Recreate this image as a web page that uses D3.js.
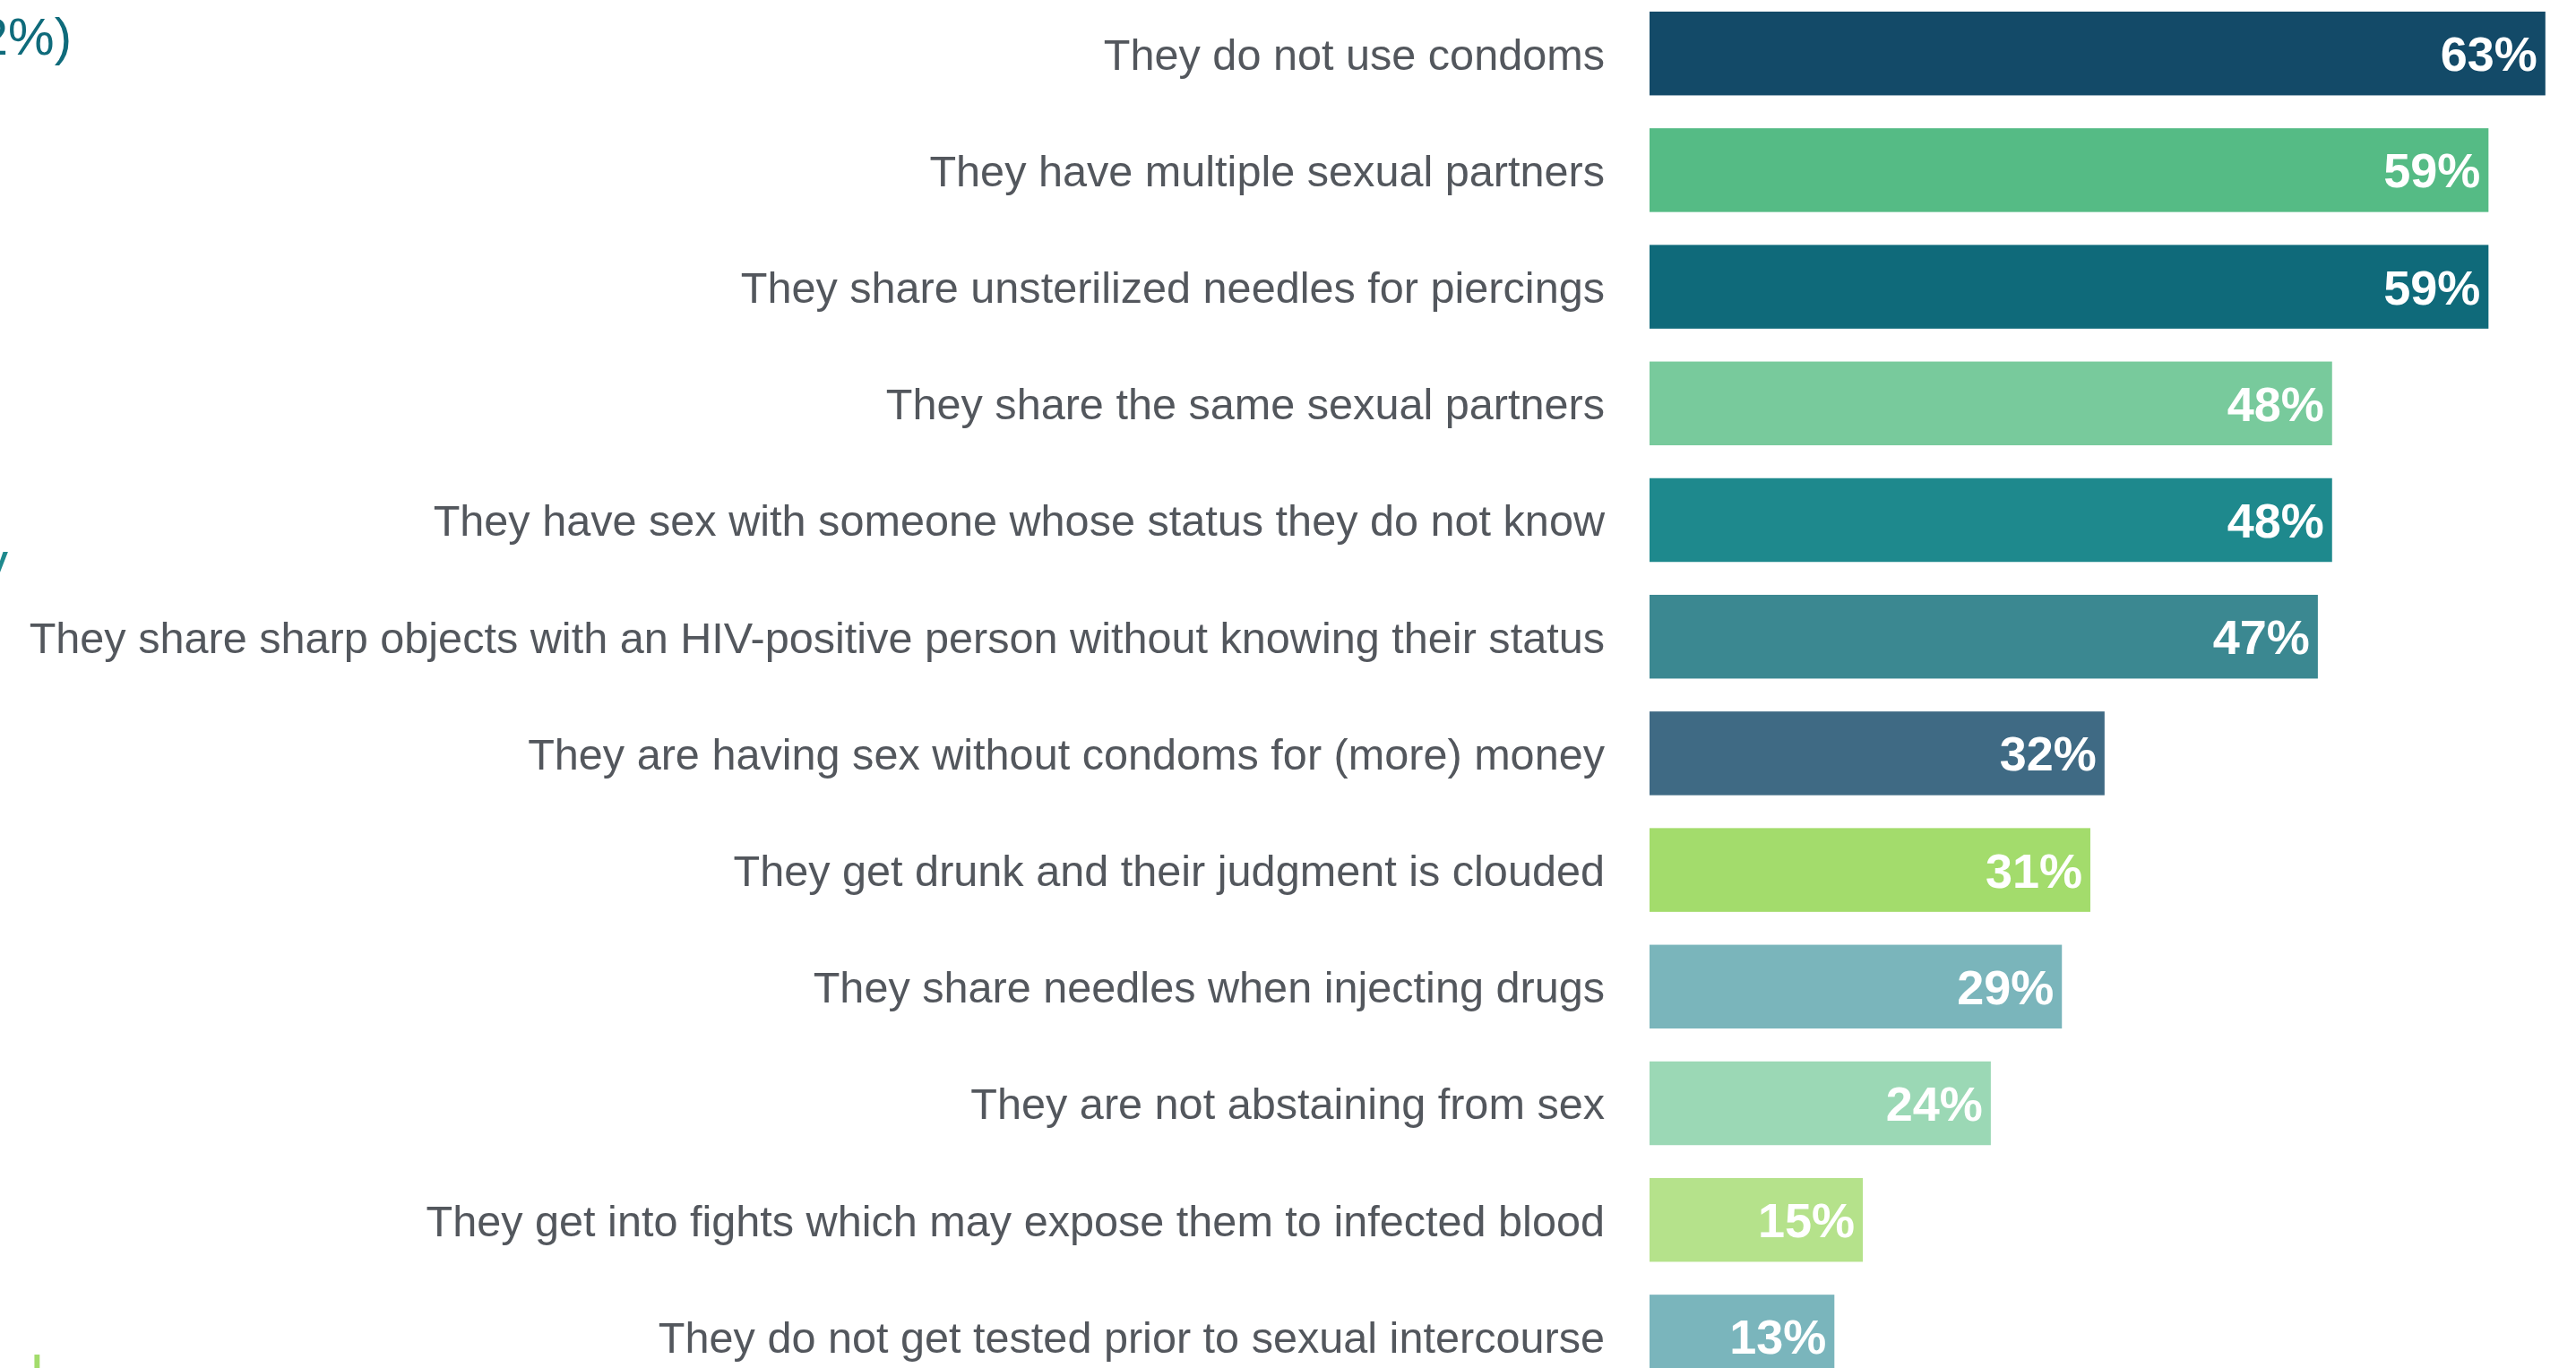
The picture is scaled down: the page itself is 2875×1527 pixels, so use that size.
<!DOCTYPE html>
<html>
<head>
<meta charset="utf-8">
<script src="https://cdn.jsdelivr.net/npm/d3@7"></script>
<style>
  html, body { margin: 0; padding: 0; background: #ffffff; }
  svg { display: block; }
</style>
</head>
<body>
<script>
// Reasons given for HIV risk, share of respondents (%)
const categories = [
  "They do not use condoms",
  "They have multiple sexual partners",
  "They share unsterilized needles for piercings",
  "They share the same sexual partners",
  "They have sex with someone whose status they do not know",
  "They share sharp objects with an HIV-positive person without knowing their status",
  "They are having sex without condoms for (more) money",
  "They get drunk and their judgment is clouded",
  "They share needles when injecting drugs",
  "They are not abstaining from sex",
  "They get into fights which may expose them to infected blood",
  "They do not get tested prior to sexual intercourse"
];
const values = [63, 59, 59, 48, 48, 47, 32, 31, 29, 24, 15, 13];
const barColors = [
  "#134a68", "#55bb85", "#0f6a7a", "#78ca9c", "#1e898d", "#3b8891",
  "#3f6a84", "#a3dc6c", "#7ab5bb", "#9bd8b5", "#b5e28b", "#7ab5bc"
];
// Fragments of the neighbouring panel that run into the left edge
const sideTexts = ["2%)", "y", "l"];

const W = 2875, H = 1527;
const labelFont = "'Liberation Sans', Arial, sans-serif";
const valueFont = "'Liberation Sans', Arial, Helvetica, sans-serif";

const svg = d3.select("body").append("svg")
  .attr("width", W).attr("height", H)
  .attr("viewBox", `0 0 ${W} ${H}`);

svg.append("rect").attr("width", W).attr("height", H).attr("fill", "#ffffff");

const x = d3.scaleLinear().domain([0, 100]).range([1841, 3428]);
const y = d3.scaleBand().domain(categories).range([-5.4, 1557])
  .paddingInner(0.282).paddingOuter(0.141);

const data = categories.map((c, i) => ({ c, v: values[i], col: barColors[i] }));

// bars
svg.append("g").selectAll("rect").data(data).join("rect")
  .attr("x", x(0))
  .attr("y", d => y(d.c))
  .attr("width", d => x(d.v) - x(0))
  .attr("height", y.bandwidth())
  .attr("fill", d => d.col);

// value labels inside bar ends
svg.append("g").selectAll("text").data(data).join("text")
  .attr("x", d => x(d.v) - 9)
  .attr("y", d => y(d.c) + y.bandwidth() / 2)
  .attr("dy", "0.36em")
  .attr("text-anchor", "end")
  .attr("font-family", valueFont)
  .attr("font-weight", "bold")
  .attr("font-size", 54)
  .attr("fill", "#ffffff")
  .text(d => d.v + "%");

// category labels (left axis)
const yAxis = d3.axisLeft(y).tickSize(0).tickPadding(0);
const ag = svg.append("g").attr("transform", "translate(1791,0)").call(yAxis);
ag.select(".domain").remove();
ag.selectAll("text")
  .attr("font-family", labelFont)
  .attr("font-size", 48.6)
  .attr("fill", "#53575d")
  .attr("dy", "0.37em");

// clipped text from the adjacent panel at the left edge
svg.append("text")
  .attr("x", 80).attr("y", 61)
  .attr("text-anchor", "end")
  .attr("font-family", "'Liberation Sans', sans-serif")
  .attr("font-size", 58)
  .attr("fill", "#0f6b7b")
  .text(sideTexts[0]);
svg.append("text")
  .attr("x", 9).attr("y", 646)
  .attr("text-anchor", "end")
  .attr("font-family", "'Liberation Sans', sans-serif")
  .attr("font-size", 58)
  .attr("fill", "#1e898d")
  .text(sideTexts[1]);
svg.append("text")
  .attr("x", 34).attr("y", 1560)
  .attr("font-family", "'Liberation Sans', sans-serif")
  .attr("font-size", 66)
  .attr("fill", "#a3dc6c")
  .text(sideTexts[2]);
</script>
</body>
</html>
